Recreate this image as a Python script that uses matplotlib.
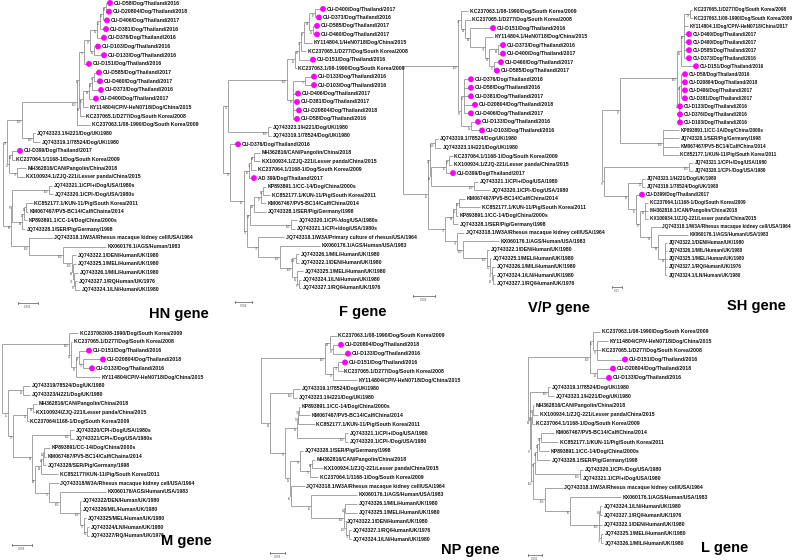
import matplotlib
matplotlib.use("Agg")
import matplotlib.pyplot as plt
from matplotlib.collections import LineCollection

# Newick-like trees; number after ':' is the node/tip x position (pixels), '*' = study strain (magenta dot)
HN_CUUP = ("((((((*CU-D58/Dog/Thailand/2016:110,*CU-D20804/Dog/Thailand/2018:109)64:106,*CU-D406/Dog/Thailand/2017:107)55:103,"
           "*CU-D381/Dog/Thailand/2016:106)96:100,*CU-D376/Dog/Thailand/2016:104)51:97,(*CU-D103/Dog/Thailand/2016:98,"
           "*CU-D133/Dog/Thailand/2016:104)61:94)97:90,*CU-D151/Dog/Thailand/2016:89)77:84")
HN_CULOW = ("((((*CU-D585/Dog/Thailand/2017:99,*CU-D460/Dog/Thailand/2017:100)87:94,*CU-D373/Dog/Thailand/2016:101)94:92,"
            "*CU-D400/Dog/Thailand/2017:96)88:89,KY114804/CPIV-HeN0718/Dog/China/2015:88)75:83")
HN_T = ("((" + HN_CUUP + ",(" + HN_CULOW + ",KC237065.1/D277/Dog/South Korea/2008:85)89:80)66:79,"
        "KC237063.1/08-1990/Dog/South Korea/2009:90)100:77")
HN_UK = "(JQ743323.1/H221/Dog/UK/1980:35,JQ743319.1/78524/Dog/UK/1980:40)100:33"
HN_P = ("((*CU-D399/Dog/Thailand/2017:20,KC237064.1/1168-1/Dog/South Korea/2009:15)83:12,"
        "(MH362816/CAN/Pangolin/China/2018:26,KX100934.1/ZJQ-221/Lesser panda/China/2015:25)78:17)95:9")
HN_B2 = ("((JQ743321.1/CPI+/Dog/USA/1980s:52,JQ743320.1/CPI-/Dog/USA/1980s:53)100:49,"
         "(((KC852177.1/KUN-11/Pig/South Korea/2011:33,KM067467/PV5-BC14/Calf/Chaina/2014:28)61:26,"
         "KP893891.1/CC-14/Dog/China/2000s:27)53:24,JQ743328.1/SER/Pig/Germany/1998:25)88:22)76:12")
HN_B3 = ("(JQ743318.1/W3A/Rhesus macaque kidney cell/USA/1964:53,(KX060176.1/AGS/Human/1983:106,"
         "(JQ743322.1/DEN/Human/UK/1980:76,(JQ743325.1/MEL/Human/UK/1980:76,(JQ743326.1/MIL/Human/UK/1980:78,"
         "(JQ743327.1/RQHuman/UK/1976:77,JQ743324.1/LN/Human/UK/1980:80)62:75)74:74)88:73)100:72)100:63)100:29")
HN = "(((" + HN_T + "," + HN_UK + ")100:22," + HN_P + ")92:7,(" + HN_B2 + "," + HN_B3 + ")98:11):3"

F_T1 = ("((((((*CU-D400/Dog/Thailand/2017:323,*CU-D373/Dog/Thailand/2016:319)62:315,(*CU-D585/Dog/Thailand/2017:317,"
        "*CU-D460/Dog/Thailand/2017:317)51:313)88:309,KY114804.1/HeN0718/Dog/China/2015:312)72:304,"
        "KC237065.1/D277/Dog/South Korea/2008:306)70:301,*CU-D151/Dog/Thailand/2016:313)64:299,"
        "KC237063.1/08-1990/Dog/South Korea/2009:297)51:295")
F_T2 = ("((*CU-D133/Dog/Thailand/2016:314,*CU-D103/Dog/Thailand/2016:314)77:305,*CU-D406/Dog/Thailand/2017:298,"
        "*CU-D381/Dog/Thailand/2017:297,*CU-D20804/Dog/Thailand/2018:299,*CU-D58/Dog/Thailand/2016:297)59:293")
F_P = ("(((MH362816/CAN/Pangolin/China/2018:260,KX100934.1/ZJQ-221/Lesser panda/China/2015:260)98:254,"
       "KC237064.1/1168-1/Dog/South Korea/2009:256)71:251,*AD 399/Dog/Thailand/2017:254)66:249")
F_Q = ("(((KP893891.1/CC-14/Dog/China/2000s:266,KC852177.1/KUN-11/Pig/South Korea/2011:270)61:263,"
       "KM067467/PV5-BC14/Calf/China/2014:266)97:261,JQ743328.1/SER/Pig/Germany/1998:266)65:254")
F_CPI = "(JQ743320.1/CPI-/dog/USA/1980s:297,JQ743321.1/CPI+/dog/USA/1980s:295)100:291"
F_W = ("(JQ743318.1/W3A/Primary culture of rhesus/USA/1964:284,(KX060176.1/AGS/Human/USA/1983:320,"
       "((JQ743326.1/MIL/Human/UK/1980:299,JQ743322.1/DEN/Human/UK/1980:299)100:296,(JQ743325.1/MEL/Human/UK/1980:303,"
       "(JQ743324.1/LN/Human/UK/1980:301,JQ743327.1/RQ/Human/UK/1976:301)52:299)61:297)100:292)100:280)78:258")
F = ("(((" + F_T1 + "," + F_T2 + ")100:287,(JQ743323.1/H221/Dog/UK/1980:271,JQ743319.1/78524/Dog/UK/1980:271)100:268)95:228,"
     "(*CU-D376/Dog/Thailand/2016:238,(" + F_P + ",((" + F_Q + "," + F_CPI + ")81:250," + F_W + ")71:247)54:244)92:230):223")

VP_T1 = ("(KC237063.1/08-1990/Dog/South Korea/2009:468,(KC237065.1/D277/Dog/South Korea/2008:471,(*CU-D151/Dog/Thailand/2016:493,"
         "(KY114804.1/HeN0718/Dog/China/2015:493,((*CU-D373/Dog/Thailand/2016:503,*CU-D400/Dog/Thailand/2017:503)88:498,"
         "(*CU-D460/Dog/Thailand/2017:501,*CU-D585/Dog/Thailand/2017:497)75:494)99:489)79:485)88:470)82:465)74:461")
VP_T2 = ("((*CU-D376/Dog/Thailand/2016:471,*CU-D58/Dog/Thailand/2016:471,*CU-D381/Dog/Thailand/2017:471,"
         "*CU-D20804/Dog/Thailand/2018:475,*CU-D406/Dog/Thailand/2017:471)87:464,(*CU-D133/Dog/Thailand/2016:478,"
         "*CU-D103/Dog/Thailand/2016:482)91:471)62:461")
VP_UK = "(JQ743319.1/78524/Dog/UK/1980:438,JQ743323.1/H221/Dog/UK/1980:441)100:435"
VP_PANG = ("((KC237064.1/1168-1/Dog/South Korea/2009:453,KX100934.1/ZJQ-221/Lesser panda/China/2015:452)97:449,"
           "*CU-D399/Dog/Thailand/2017:453)65:446")
VP_CPI = "(JQ743321.1/CPI+/Dog/USA/1980:478,JQ743320.1/CPI-/Dog/USA/1980:490)100:474"
VP_CAT = ("(((KM067467/PV5-BC14/Calf/China/2014:465,KC852177.1/KUN-11/Pig/South Korea/2011:480)61:459,"
          "KP893891.1/CC-14/Dog/China/2000s:458)51:456,JQ743328.1/SER/Pig/Germany/1998:458)88:453")
VP_W = ("(JQ743318.1/W3A/Rhesus macaque kidney cell/USA/1964:464,(KX060176.1/AGS/Human/USA/1983:499,"
        "(JQ743322.1/DEN/Human/UK/1980:489,(JQ743325.1/MEL/Human/UK/1980:491,(JQ743326.1/MIL/Human/UK/1980:495,"
        "(JQ743324.1/LN/Human/UK/1980:495,JQ743327.1/RQ/Human/UK/1976:495)54:493)73:492)90:490)100:487)100:463)78:457")
VP = ("((" + VP_T1 + "," + VP_T2 + ")100:458,((" + VP_UK + ",(" + VP_PANG + "," + VP_CPI + ")98:431)90:430,("
      + VP_CAT + "," + VP_W + ")72:445)55:428):403")

SH_T1 = ("(((KC237065.1/D277/Dog/South Korea/2008:692,KC237063.1/08-1990/Dog/South Korea/2009:693)92:690,"
         "KY114804.1/Dog/CPIV-HeN0718/China/2017:688,*CU-D460/Dog/Thailand/2017:689,*CU-D400/Dog/Thailand/2017:689,"
         "*CU-D585/Dog/Thailand/2017:689,*CU-D373/Dog/Thailand/2016:689)63:684,*CU-D151/Dog/Thailand/2016:696)61:681")
SH_T2 = ("((*CU-D58/Dog/Thailand/2016:685,*CU-D20804/Dog/Thailand/2018:685,*CU-D406/Dog/Thailand/2017:685,"
         "*CU-D381/Dog/Thailand/2017:685)64:681,*CU-D133/Dog/Thailand/2016:680,*CU-D376/Dog/Thailand/2016:680,"
         "*CU-D103/Dog/Thailand/2016:680)94:679")
SH_PIG = ("(KP893891.1/CC-1A/Dog/China/2000s:679,JQ743328.1/SER/Pig/Germany/1998:679,"
          "KM067467/PV5-BC14/Calf/China/2014:679,KC852177.1/KUN-11/Pig/South Korea/2011:679)100:663")
SH_B = ("((JQ743321.1/CPI+/Dog/USA/1980:693,JQ743320.1/CPI-/Dog/USA/1980:693)100:689,"
        "((JQ743323.1/H221/Dog/UK/1980:645,JQ743319.1/78524/Dog/UK/1980:645)90:642,(*CU-D399/Dog/Thailand/2017:642,"
        "((KC237064.1/1168-1/Dog/South Korea/2009:648,MH362816.1/CAN/Pangolin/China/2018:648,"
        "KX100934.1/ZJQ-221/Lesser panda/China/2015:648)68:645,(JQ743318.1/W3A/Rhesus macaque kidney cell/USA/1964:661,"
        "(KX060176.1/AGS/Human/USA/1983:688,(JQ743322.1/DEN/Human/UK/1980:667,JQ743326.1/MIL/Human/UK/1980:667,"
        "JQ743325.1/MEL/Human/UK/1980:667,JQ743327.1/RQ/Human/UK/1976:667,JQ743324.1/LN/Human/UK/1980:667)91:665)98:658)91:651)52:640)55:636)58:628)87:604")
SH = "(((" + SH_T1 + "," + SH_T2 + ")100:677," + SH_PIG + ")87:620," + SH_B + "):602"

M_T = ("(KC237063/08-1990/Dog/South Korea/2009:78,(KC237065.1/D277/Dog/South Korea/2008:72,((*CU-D151/Dog/Thailand/2016:89,"
       "(*CU-D20804/Dog/Thailand/2018:103,*CU-D133/Dog/Thailand/2016:92)71:83)92:79,"
       "KY114804/CPIV-HeN0718/Dog/China/2015:100)62:76)51:71)100:69")
M_B = ("((JQ743319/78524/Dog/UK/1980:30,JQ743323/H221/Dog/UK/1980:30)94:23,(((MH362816/CAN/Pangolin/China/2018:37,"
       "KX100934/ZJQ-221/Lesser panda/China/2015:35)93:33,KC237064/1168-1/Dog/South Korea/2009:29)95:27,"
       "((JQ743320/CPI-/Dog/USA/1980s:74,JQ743321/CPI+/Dog/USA/1980s:74)100:70,((((KP893891/CC-14/Dog/China/2000s:50,"
       "KM067467/PV5-BC14/Calf/Chaina/2014:46)61:44,JQ743328/SER/Pig/Germany/1998:46)65:43,"
       "KC852177/KUN-11/Pig/South Korea/2011:58)82:41,(JQ743318/W3A/Rhesus macaque kidney cell/USA/1964:59,"
       "(KX060176/AGS/Human/USA/1983:106,(JQ743322/DEN/Human/UK/1980:81,JQ743326/MIL/Human/UK/1980:81,"
       "(JQ743325/MEL/Human/UK/1980:86,(JQ743324/LN/Human/UK/1980:89,JQ743327/RQ/Human/UK/1976:89)61:87)75:84)100:80)100:60)75:49)98:35)82:32)97:13)95:8")
M = "(" + M_T + "," + M_B + "):2"

NP_T = ("((KC237063.1/08-1990/Dog/South Korea/2009:337,(*CU-D20804/Dog/Thailand/2018:341,*CU-D133/Dog/Thailand/2016:348)62:333)84:330,"
        "((*CU-D151/Dog/Thailand/2016:345,KC237065.1/D277/Dog/South Korea/2008:343)71:338,"
        "KY114804/CPIV-HeN0718/Dog/China/2015:357)52:333)100:325")
NP_UK = "(JQ743319.1/78524/Dog/UK/1980:300,JQ743323.1/H221/Dog/UK/1980:297)100:293"
NP_CAT = ("(((KP893891.1/CC-14/Dog/China/2000s:300,KM067467/PV5-BC14/Calf/China/2014:310)71:299,"
          "KC852177.1/KUN-11/Pig/South Korea/2011:315)52:298,(JQ743321.1/CPI+/Dog/USA/1980:348,"
          "JQ743320.1/CPI-/Dog/USA/1980:348)100:345)61:297")
NP_PANG = ("(JQ743328.1/SER/Pig/Germany/1998:303,((MH362816/CAN/Pangolin/China/2018:315,"
           "KX100934.1/ZJQ-221/Lesser panda/China/2015:323)98:312,KC237064.1/1168-1/Dog/South Korea/2009:318)75:310)92:300")
NP_W = ("(JQ743318.1/W3A/Rhesus macaque kidney cell/USA/1964:305,(KX060176.1/AGS/Human/USA/1983:357,"
        "((JQ743326.1/MIL/Human/UK/1980:357,JQ743325.1/MEL/Human/UK/1980:357)91:345,(JQ743322.1/DEN/Human/UK/1980:345,"
        "(JQ743327.1/RQ/Human/UK/1976:351,JQ743324.1/LN/Human/UK/1980:351)71:349)100:346)100:344)96:311)96:291")
NP = ("(" + NP_T + ",(" + NP_UK + ",(" + NP_CAT + ",(" + NP_PANG + "," + NP_W + ")58:290)52:285)80:270):261")

L_T = ("((KC237063.1/08-1990/Dog/South Korea/2009:600,(KY114804/CPIV-HeN0718/Dog/China/2015:608,"
       "KC237065.1/D277/Dog/South Korea/2008:601,*CU-D151/Dog/Thailand/2016:625)87:597)96:593,"
       "(*CU-D20804/Dog/Thailand/2018:613,*CU-D133/Dog/Thailand/2016:609)64:597)100:590")
L_UK = "(JQ743319.1/78524/Dog/UK/1980:550,JQ743323.1/H221/Dog/UK/1980:554)100:548"
L_PANG = ("((MH362816/CAN/Pangolin/China/2018:534,KX100934.1/ZJQ-221/Lesser panda/China/2015:538)81:533,"
          "KC237064.1/1168-1/Dog/South Korea/2009:535)96:532")
L_CAT = ("((((KM067467/PV5-BC14/Calf/China/2014:554,KC852177.1/KUN-11/Pig/South Korea/2011:558)62:541,"
         "KP893891.1/CC-14/Dog/China/2000s:549)99:539,JQ743328.1/SER/Pig/Germany/1998:550)94:537,"
         "(JQ743320.1/CPI-/Dog/USA/1980:583,JQ743321.1/CPI+/Dog/USA/1980:581)100:580)92:535")
L_W = ("(JQ743318.1/W3A/Rhesus macaque kidney cell/USA/1964:563,(KX060176.1/AGS/Human/USA/1983:621,"
       "((JQ743324.1/LN/Human/UK/1980:602,JQ743327.1/RQ/Human/UK/1976:602)66:600,JQ743322.1/DEN/Human/UK/1980:602,"
       "(JQ743325.1/MEL/Human/UK/1980:603,JQ743326.1/MIL/Human/UK/1980:603)71:601)100:599)96:570)100:545")
L = ("(" + L_T + ",(" + L_UK + ",(" + L_PANG + ",(" + L_CAT + "," + L_W + ")100:533)52:531)88:530):528")

trees = [HN, F, VP, SH, M, NP, L]
gene_names = ["HN gene", "F gene", "V/P gene", "SH gene", "M gene", "NP gene", "L gene"]
# first / last leaf row, gene label position, scale bar (x0, x1, y, text), label size
leaf_rows = [(3, 290), (9, 288), (11, 284), (10, 275), (333, 536), (336, 539), (332, 543)]
gene_pos = [(179, 314), (363, 312), (559, 308), (756, 306), (186, 541), (470, 550), (725, 548)]
scale_bars = [(18, 38, 303, "0.005"), (235, 252, 302, "0.004"), (413, 435, 296, "0.005"), (612, 622, 287, "0.01"),
              (12, 32, 545, "0.005"), (270, 285, 553, "0.005"), (528, 542, 555, "0.002")]
label_sizes = [3.7, 3.7, 3.7, 3.45, 3.7, 3.7, 3.7]


def parse(s):
    pos = 0

    def skip():
        nonlocal pos
        while pos < len(s) and s[pos].isspace():
            pos += 1

    def tail():
        nonlocal pos
        start = pos
        while pos < len(s) and s[pos] not in ",()":
            pos += 1
        lab, x = s[start:pos].rsplit(":", 1)
        return lab.strip(), float(x)

    def node():
        nonlocal pos
        skip()
        if s[pos] == "(":
            pos += 1
            kids = [node()]
            skip()
            while s[pos] == ",":
                pos += 1
                kids.append(node())
                skip()
            pos += 1
            lab, x = tail()
            return {"kids": kids, "boot": lab, "x": x}
        lab, x = tail()
        return {"name": lab, "x": x}

    return node()


def place(nd, rows):
    if "kids" in nd:
        ys = [place(k, rows) for k in nd["kids"]]
        nd["y"] = (ys[0] + ys[-1]) / 2
    else:
        nd["y"] = rows.pop(0)
    return nd["y"]


def count(nd):
    return sum(count(k) for k in nd["kids"]) if "kids" in nd else 1


fig = plt.figure(figsize=(7.93, 5.6), dpi=100)
ax = fig.add_axes([0, 0, 1, 1])
ax.set_xlim(0, 793)
ax.set_ylim(560, 0)
ax.axis("off")

BRANCH = "#8a8a8a"

for tree, (ya, yb), name, (gx, gy), (sx0, sx1, sy, stxt), fs in zip(trees, leaf_rows, gene_names, gene_pos,
                                                                   scale_bars, label_sizes):
    root = parse(tree)
    n = count(root)
    rows = [ya + i * (yb - ya) / (n - 1) for i in range(n)]
    place(root, rows)
    segs = []
    leaves = []
    stack = [root]
    while stack:
        nd = stack.pop()
        if "kids" not in nd:
            leaves.append(nd)
            continue
        segs.append([(nd["x"], nd["kids"][0]["y"]), (nd["x"], nd["kids"][-1]["y"])])
        for k in nd["kids"]:
            end = k["x"]
            if "name" in k and k["name"].startswith("*"):
                end -= 2.5
            segs.append([(nd["x"], k["y"]), (end, k["y"])])
            stack.append(k)
        if nd["boot"]:
            ax.text(nd["x"] - 0.6, nd["y"] + 0.4, nd["boot"], fontsize=1.9, color="#555555",
                    ha="right", va="top", family="Liberation Sans")
    ax.add_collection(LineCollection(segs, colors=BRANCH, linewidths=0.55))

    font = dict(fontsize=fs, fontweight="bold", family="Liberation Sans", color="#111111", va="center", ha="left")
    for lf in leaves:
        if lf["name"].startswith("*"):
            ax.scatter([lf["x"]], [lf["y"]], s=18, color="#ff00ff", edgecolors="none", zorder=3)
            ax.text(lf["x"] + 3.8, lf["y"], lf["name"][1:], **font)
        else:
            ax.text(lf["x"] + 1.5, lf["y"], lf["name"], **font)

    ax.text(gx, gy, name, fontsize=10.5, fontweight="bold", family="Liberation Sans", ha="center", va="center")
    ax.plot([sx0, sx1], [sy, sy], color="#555555", lw=0.5)
    ax.plot([sx0, sx0], [sy - 1, sy + 1], color="#555555", lw=0.5)
    ax.plot([sx1, sx1], [sy - 1, sy + 1], color="#555555", lw=0.5)
    ax.text((sx0 + sx1) / 2, sy + 2, stxt, fontsize=1.9, color="#555555", ha="center", va="top")

fig.savefig("out.png", dpi=100, facecolor="white")
